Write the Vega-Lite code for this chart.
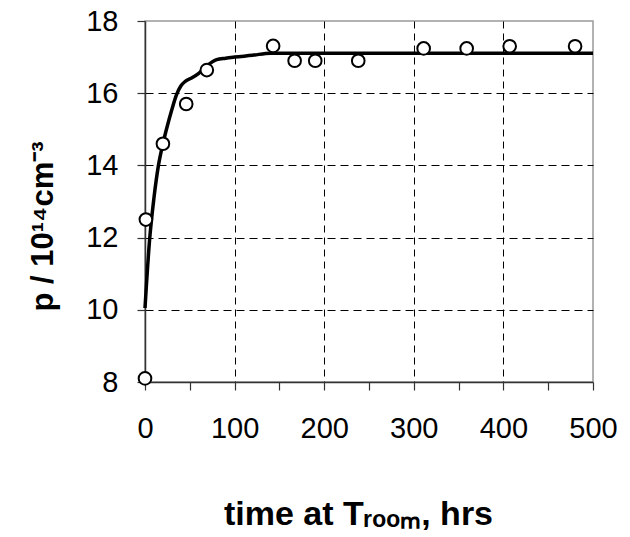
{
  "$schema": "https://vega.github.io/schema/vega-lite/v6.json",
  "autosize": {"type": "none"},
  "width": 448,
  "height": 361,
  "padding": {"left": 145, "top": 21, "right": 37, "bottom": 155},
  "background": "white",
  "config": {
    "view": {"stroke": "#999999", "strokeWidth": 1.5},
    "font": "Liberation Sans"
  },
  "datasets": {
    "points": [
      {"t": 0, "p": 8.1},
      {"t": 1, "p": 12.5},
      {"t": 20, "p": 14.6},
      {"t": 46, "p": 15.7},
      {"t": 69, "p": 16.64},
      {"t": 143, "p": 17.31},
      {"t": 167, "p": 16.9},
      {"t": 190, "p": 16.9},
      {"t": 238, "p": 16.9},
      {"t": 311, "p": 17.24},
      {"t": 359, "p": 17.24},
      {"t": 407, "p": 17.3},
      {"t": 480, "p": 17.3}
    ],
    "fit": [
      {"t": 0, "p": 10.05},
      {"t": 5, "p": 11.9},
      {"t": 10, "p": 13.1},
      {"t": 15, "p": 14.0},
      {"t": 20, "p": 14.6},
      {"t": 25, "p": 15.1},
      {"t": 30, "p": 15.55},
      {"t": 35, "p": 15.95},
      {"t": 40, "p": 16.2},
      {"t": 45, "p": 16.33},
      {"t": 52, "p": 16.42},
      {"t": 60, "p": 16.55},
      {"t": 70, "p": 16.78},
      {"t": 80, "p": 16.93},
      {"t": 90, "p": 16.97},
      {"t": 100, "p": 17.0},
      {"t": 120, "p": 17.05},
      {"t": 140, "p": 17.11},
      {"t": 200, "p": 17.11},
      {"t": 300, "p": 17.11},
      {"t": 500, "p": 17.11}
    ]
  },
  "layer": [
    {
      "data": {"name": "fit"},
      "mark": {"type": "line", "color": "black", "strokeWidth": 3.5, "interpolate": "monotone"},
      "encoding": {
        "x": {
          "field": "t", "type": "quantitative",
          "scale": {"domain": [0, 500], "nice": false},
          "axis": {
            "values": [0, 50, 100, 150, 200, 250, 300, 350, 400, 450, 500],
            "labelExpr": "datum.value % 100 == 0 ? datum.label : ''",
            "title": "time at Tᵣₒₒₘ, hrs",
            "titleFontSize": 34, "titleFontWeight": "bold", "titleColor": "black",
            "titlePadding": 54, "titleX": 213,
            "labelFontSize": 29, "labelColor": "black", "labelPadding": 24,
            "labelFlush": false,
            "domainColor": "#333333", "domainWidth": 1.5,
            "tickColor": "#333333", "tickWidth": 1.2, "tickSize": 8,
            "grid": true, "gridColor": "black", "gridWidth": 1, "gridDash": [7, 5],
            "gridOpacity": {"condition": {"test": "datum.value % 100 == 0 && datum.value > 0 && datum.value < 500", "value": 1}, "value": 0}
          }
        },
        "y": {
          "field": "p", "type": "quantitative",
          "scale": {"domain": [8, 18], "nice": false, "zero": false},
          "axis": {
            "values": [8, 9, 10, 11, 12, 13, 14, 15, 16, 17, 18],
            "labelExpr": "datum.value % 2 == 0 ? datum.label : ''",
            "title": "p / 10¹⁴cm⁻³",
            "titleFontSize": 31, "titleFontWeight": "bold", "titleColor": "black",
            "titlePadding": 26, "titleY": 205,
            "labelFontSize": 29, "labelColor": "black", "labelPadding": 19,
            "labelFlush": false,
            "domainColor": "#333333", "domainWidth": 1.5,
            "tickColor": "#333333", "tickWidth": 1.2, "tickSize": 8,
            "grid": true, "gridColor": "black", "gridWidth": 1, "gridDash": [8, 5],
            "gridOpacity": {"condition": {"test": "datum.value % 2 == 0 && datum.value > 8 && datum.value < 18", "value": 1}, "value": 0}
          }
        }
      }
    },
    {
      "data": {"name": "points"},
      "mark": {"type": "point", "shape": "circle", "filled": false, "fill": "white", "fillOpacity": 1, "stroke": "black", "strokeWidth": 2, "size": 160, "opacity": 1, "clip": false},
      "encoding": {
        "x": {"field": "t", "type": "quantitative"},
        "y": {"field": "p", "type": "quantitative"}
      }
    }
  ]
}
